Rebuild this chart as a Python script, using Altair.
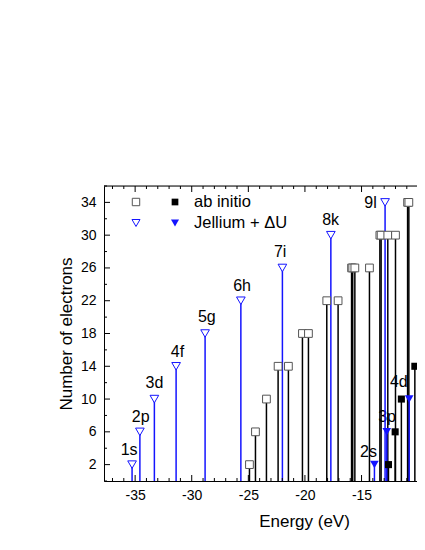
import altair as alt
import pandas as pd

# ---- data ----
jel_open_labels = ["1s", "2p", "3d", "4f", "5g", "6h", "7i", "8k", "9l"]
jel_open_energy = [-35.27, -34.58, -33.30, -31.38, -28.82, -25.66, -21.99, -17.71, -12.92]
jel_open_count = [2, 6, 10, 14, 18, 22, 26, 30, 34]

jel_fill_labels = ["2s", "3p", "4d"]
jel_fill_energy = [-13.86, -12.77, -10.79]
jel_fill_count = [2, 6, 10]

abi_open_energy = [-24.90, -24.37, -23.40, -22.37, -21.46, -20.22, -19.69, -18.07, -17.07,
                   -15.88, -15.78, -15.59, -14.30, -13.38, -13.27, -12.68, -12.00,
                   -10.93, -10.82, -9.47]
abi_open_count = [2, 6, 10, 14, 14, 18, 18, 22, 22,
                  26, 26, 26, 26, 30, 30, 30, 30,
                  34, 34, 34]

abi_fill_energy = [-12.62, -12.03, -11.48, -10.29, -9.65]
abi_fill_count = [2, 6, 10, 14, 14]

label_text = ["1s", "2p", "3d", "4f", "5g", "6h", "7i", "8k", "9l", "2s", "3p", "4d"]
label_energy = [-35.53, -34.51, -33.30, -31.26, -28.67, -25.55, -22.19, -17.73, -14.20, -14.39, -12.74, -11.71]
label_count = [3.8, 7.85, 11.95, 15.8, 20.0, 23.8, 28.0, 31.8, 33.9, 3.6, 7.85, 12.1]

x_major = [-35, -30, -25, -20, -15, -10]
x_minor = [-37, -36, -34, -33, -32, -31, -29, -28, -27, -26, -24, -23, -22, -21,
           -19, -18, -17, -16, -14, -13, -12, -11]
y_major = [2, 6, 10, 14, 18, 22, 26, 30, 34]
y_minor = [0, 4, 8, 12, 16, 20, 24, 28, 32, 36]

W, H = 313, 295
FONT = "Liberation Sans"
BLUE = "#1414ff"

xs = alt.Scale(domain=[-37.75, -10.1], nice=False, zero=False)
ys = alt.Scale(domain=[0, 36], nice=False, zero=False)

x_axis = alt.Axis(values=x_major, ticks=False, grid=False, domainColor="black",
                  labelFontSize=14, labelPadding=7, labelColor="black",
                  labelExpr="toString(datum.value)",
                  titleFontSize=17, titleFontWeight="normal", titlePadding=11,
                  titleX=200, titleColor="black", labelFont=FONT, titleFont=FONT)
y_axis = alt.Axis(values=y_major, ticks=False, grid=False, domainColor="black",
                  labelFontSize=14, labelPadding=8, labelColor="black",
                  titleFontSize=17, titleFontWeight="normal", titlePadding=5,
                  titleColor="black", labelFont=FONT, titleFont=FONT)

jo = pd.DataFrame({"E": jel_open_energy, "N": jel_open_count, "lab": jel_open_labels})
jf = pd.DataFrame({"E": jel_fill_energy, "N": jel_fill_count, "lab": jel_fill_labels})
ao = pd.DataFrame({"E": abi_open_energy, "N": abi_open_count})
af = pd.DataFrame({"E": abi_fill_energy, "N": abi_fill_count})
lb = pd.DataFrame({"E": label_energy, "N": label_count, "t": label_text})
one = pd.DataFrame({"a": [0]})

X = lambda: alt.X("E:Q", scale=xs, axis=x_axis, title="Energy (eV)")
Y = lambda: alt.Y("N:Q", scale=ys, axis=y_axis, title="Number of electrons")

# inward ticks
tx_major = pd.DataFrame({"E": x_major})
tx_minor = pd.DataFrame({"E": x_minor})
ty_major = pd.DataFrame({"N": y_major})
ty_minor = pd.DataFrame({"N": y_minor})

def xticks(df, ln):
    bot = alt.Chart(df).mark_rule(color="black", strokeWidth=1).encode(
        x=X(), y=alt.value(H), y2=alt.value(H - ln))
    top = alt.Chart(df).mark_rule(color="black", strokeWidth=1).encode(
        x=X(), y=alt.value(0), y2=alt.value(ln))
    return bot + top

def yticks(df, ln):
    return alt.Chart(df).mark_rule(color="black", strokeWidth=1).encode(
        y=Y(), x=alt.value(0), x2=alt.value(ln))

top_line = alt.Chart(one).mark_rule(color="black", strokeWidth=1).encode(
    x=alt.value(0), x2=alt.value(W + 10), y=alt.value(0))

labels = alt.Chart(lb).mark_text(font=FONT, fontSize=16, align="center", baseline="middle",
                                 color="black").encode(x=X(), y=Y(), text="t:N")

def stems(df, color):
    return alt.Chart(df).mark_rule(color=color, strokeWidth=1.5).encode(
        x=X(), y=Y(), y2=alt.datum(0))

abi_open_pt = alt.Chart(ao).mark_point(shape="square", size=60, filled=True, fill="white",
                                       stroke="#555555", strokeWidth=1, opacity=1
                                       ).encode(x=X(), y=Y())
abi_fill_pt = alt.Chart(af).mark_point(shape="square", size=50, filled=True, fill="black",
                                       opacity=1).encode(x=X(), y=Y())
jo_pt = alt.Chart(jo).mark_point(shape="triangle-down", size=75, filled=True, fill="white",
                                 stroke=BLUE, strokeWidth=1, opacity=1).encode(x=X(), y=Y())
jf_pt = alt.Chart(jf).mark_point(shape="triangle-down", size=75, filled=True, fill=BLUE,
                                 opacity=1).encode(x=X(), y=Y())

# legend
leg = (
    alt.Chart(one).mark_point(shape="square", size=55, filled=True, fill="white",
                              stroke="#555555", strokeWidth=1, opacity=1)
    .encode(x=alt.value(32), y=alt.value(16))
    + alt.Chart(one).mark_point(shape="square", size=45, filled=True, fill="black", opacity=1)
    .encode(x=alt.value(71), y=alt.value(16))
    + alt.Chart(one).mark_text(text="ab initio", font=FONT, fontSize=16.5, align="left",
                               baseline="middle", color="black")
    .encode(x=alt.value(90), y=alt.value(16))
    + alt.Chart(one).mark_point(shape="triangle-down", size=65, filled=True, fill="white",
                                stroke=BLUE, strokeWidth=1, opacity=1)
    .encode(x=alt.value(32), y=alt.value(37))
    + alt.Chart(one).mark_point(shape="triangle-down", size=65, filled=True, fill=BLUE,
                                opacity=1)
    .encode(x=alt.value(71), y=alt.value(37))
    + alt.Chart(one).mark_text(text="Jellium + ΔU", font=FONT, fontSize=16.5, align="left",
                               baseline="middle", color="black")
    .encode(x=alt.value(90), y=alt.value(37))
)

chart = alt.layer(
    labels,
    stems(ao, "black"), stems(af, "black"), stems(jo, BLUE), stems(jf, BLUE),
    abi_open_pt, abi_fill_pt, jo_pt, jf_pt,
    xticks(tx_major, 6), xticks(tx_minor, 3), yticks(ty_major, 6), yticks(ty_minor, 3),
    top_line,
    leg,
).properties(
    width=W, height=H,
    autosize=alt.AutoSizeParams(type="none"),
    padding={"left": 96, "top": 178, "right": 0, "bottom": 62},
).configure_view(stroke=None).configure(background="white")

chart.save("out.html", embed_options={"renderer": "svg", "actions": False})
